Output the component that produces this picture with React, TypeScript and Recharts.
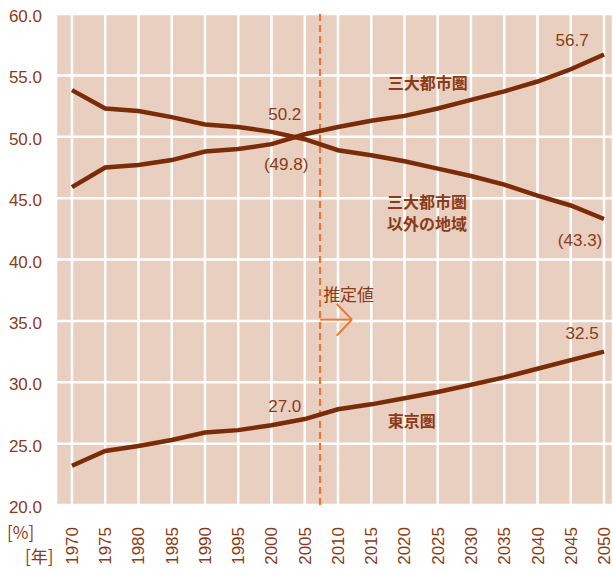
import { LineChart, Line, XAxis, YAxis, CartesianGrid, ReferenceLine, ReferenceDot } from "recharts";

const years = [1970, 1975, 1980, 1985, 1990, 1995, 2000, 2005, 2010, 2015, 2020, 2025, 2030, 2035, 2040, 2045, 2050];
const sandai = [45.9, 47.5, 47.7, 48.1, 48.8, 49.0, 49.4, 50.2, 50.8, 51.3, 51.7, 52.3, 53.0, 53.7, 54.5, 55.5, 56.7];
const igai = [53.8, 52.3, 52.1, 51.6, 51.0, 50.8, 50.4, 49.8, 48.9, 48.5, 48.0, 47.4, 46.8, 46.1, 45.2, 44.4, 43.3];
const tokyo = [23.2, 24.4, 24.8, 25.3, 25.9, 26.1, 26.5, 27.0, 27.8, 28.2, 28.7, 29.2, 29.8, 30.4, 31.1, 31.8, 32.5];
const yTicks = [20, 25, 30, 35, 40, 45, 50, 55, 60];
const estimateYear = 2007.3;

const notes = [
  { x: 2002.0, y: 51.85, text: "50.2" },
  { x: 2002.2, y: 47.8, text: "(49.8)" },
  { x: 2045.2, y: 57.9, text: "56.7" },
  { x: 2046.4, y: 41.6, text: "(43.3)" },
  { x: 2002.0, y: 28.05, text: "27.0" },
  { x: 2046.7, y: 34.0, text: "32.5" },
];
const names = [
  { x: 2023.5, y: 54.5, lines: ["三大都市圏"] },
  { x: 2023.4, y: 43.85, lines: ["三大都市圏", "以外の地域"] },
  { x: 2021.1, y: 26.9, lines: ["東京圏"] },
];

const data = years.map((y, i) => ({ year: y, sandai: sandai[i], igai: igai[i], tokyo: tokyo[i] }));

const BROWN = "#8B3B17";
const LINE = "#7A2C08";
const ORANGE = "#EE7633";
const NUM_FONT = "'Liberation Sans', Arial, sans-serif";
const JP_FONT = "'Noto Sans CJK JP', sans-serif";

function XTick(props: any) {
  const { x, payload } = props;
  return (
    <text
      transform={`translate(${x + 6},527) rotate(-90)`}
      textAnchor="end"
      fill={BROWN}
      fontSize={17}
      fontFamily={NUM_FONT}
    >
      {payload.value}
    </text>
  );
}

function YTick(props: any) {
  const { y, payload } = props;
  return (
    <text x={42} y={y + 8} textAnchor="end" fill={BROWN} fontSize={17} fontFamily={NUM_FONT}>
      {Number(payload.value).toFixed(1)}
    </text>
  );
}

// label drawn centred on the reference point; several lines are stacked
const textLabel = (lines: string[], font: string, bold: boolean) => (props: any) => {
  const vb = props.viewBox;
  const step = 22;
  const top = vb.y - ((lines.length - 1) * step) / 2;
  return (
    <text
      textAnchor="middle"
      dominantBaseline="central"
      fill={BROWN}
      fontSize={bold ? 16 : 17}
      fontWeight={bold ? 700 : 400}
      fontFamily={font}
    >
      {lines.map((l, i) => (
        <tspan key={i} x={vb.x} y={top + i * step}>
          {l}
        </tspan>
      ))}
    </text>
  );
};

export default function App() {
  return (
    <div style={{ position: "absolute", left: 0, top: 0, background: "#fff" }}>
      <LineChart width={613} height={570} data={data} margin={{ top: 14, right: 0, left: 0, bottom: 0 }}>
        <CartesianGrid fill="#E8CFC0" stroke="#ffffff" strokeWidth={2.5} />
        <XAxis
          dataKey="year"
          type="number"
          domain={[1967.6, 2051.35]}
          ticks={years}
          allowDataOverflow
          height={65}
          axisLine={false}
          tickLine={false}
          interval={0}
          tick={<XTick />}
        />
        <YAxis
          domain={[20, 60]}
          ticks={yTicks}
          width={56}
          axisLine={false}
          tickLine={false}
          interval={0}
          tick={<YTick />}
        />
        <ReferenceLine x={estimateYear} stroke={ORANGE} strokeWidth={2.2} strokeDasharray="7 4" />
        <ReferenceLine segment={[{ x: estimateYear, y: 35.1 }, { x: 2012.1, y: 35.1 }]} stroke={ORANGE} strokeWidth={2} />
        <ReferenceLine segment={[{ x: 2009.8, y: 36.4 }, { x: 2012.1, y: 35.1 }]} stroke={ORANGE} strokeWidth={2} />
        <ReferenceLine segment={[{ x: 2012.1, y: 35.1 }, { x: 2009.8, y: 33.8 }]} stroke={ORANGE} strokeWidth={2} />
        <Line dataKey="sandai" stroke={LINE} strokeWidth={4.5} dot={false} isAnimationActive={false} />
        <Line dataKey="igai" stroke={LINE} strokeWidth={4.5} dot={false} isAnimationActive={false} />
        <Line dataKey="tokyo" stroke={LINE} strokeWidth={4.5} dot={false} isAnimationActive={false} />
        {notes.map((n, i) => (
          <ReferenceDot key={"n" + i} x={n.x} y={n.y} r={0} stroke="none" fill="none" label={textLabel([n.text], NUM_FONT, false)} />
        ))}
        {names.map((n, i) => (
          <ReferenceDot key={"m" + i} x={n.x} y={n.y} r={0} stroke="none" fill="none" label={textLabel(n.lines, JP_FONT, true)} />
        ))}
        <ReferenceDot x={2011.6} y={37.26} r={0} stroke="none" fill="none" label={textLabel(["推定値"], JP_FONT, false)} />
      </LineChart>
      <div style={{ position: "absolute", left: 7, top: 520, color: BROWN, fontSize: 17, fontFamily: JP_FONT, lineHeight: "24px" }}>
        <div>[%]</div>
        <div style={{ marginLeft: 18 }}>[年]</div>
      </div>
    </div>
  );
}
